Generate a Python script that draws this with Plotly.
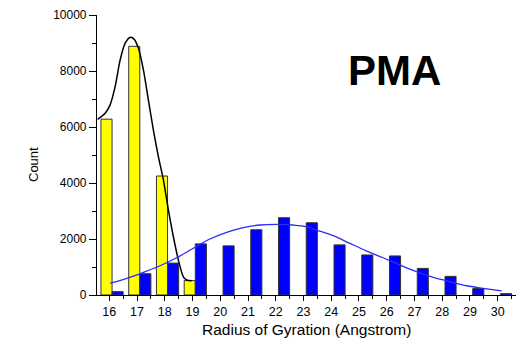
import plotly.graph_objects as go

# Radius-of-gyration bins (Angstrom)
yellow_bins = [16, 17, 18, 19]
yellow_counts = [6280, 8880, 4250, 515]

blue_bins = [16, 17, 18, 19, 20, 21, 22, 23, 24, 25, 26, 27, 28, 29, 30]
blue_counts = [120, 760, 1140, 1825, 1755, 2330, 2760, 2580, 1790, 1430, 1395, 950, 665, 230, 48]

# Fitted distribution curves
black_fit_x = [15.58, 15.85, 16.03, 16.21, 16.39, 16.57, 16.75, 16.90, 17.05, 17.23,
               17.41, 17.59, 17.77, 17.95, 18.13, 18.31, 18.49, 18.67, 18.79, 18.97]
black_fit_y = [6275, 6490, 6790, 7440, 8390, 8990, 9200, 9130, 8810, 8040,
               6960, 5890, 4940, 4110, 3040, 2080, 1250, 650, 535, 510]

blue_fit_x = [16.03, 16.63, 17.23, 17.83, 18.43, 19.03, 19.63, 20.23, 20.83, 21.43,
              22.03, 22.63, 23.11, 23.47, 24.07, 24.67, 25.28, 25.87, 26.48, 27.08,
              27.68, 28.28, 28.88, 29.48, 30.14]
blue_fit_y = [420, 595, 810, 1045, 1330, 1670, 2000, 2240, 2405, 2500,
              2525, 2500, 2440, 2320, 2120, 1845, 1570, 1330, 1070, 830,
              630, 475, 330, 240, 145]

x_ticks = list(range(16, 31))
y_ticks = [0, 2000, 4000, 6000, 8000, 10000]

FONT = "Liberation Sans, Arial, sans-serif"

# Figure and plot-area geometry in pixels
W, H = 516, 339
L, R, T, B = 97, 0, 15, 44
pw, ph = W - L - R, H - T - B


def px_to_paper(x, y):
    """Convert figure pixel coordinates (origin top-left) to paper coordinates."""
    return (x - L) / pw, (H - y - B) / ph


fig = go.Figure()

fig.add_trace(go.Bar(
    x=yellow_bins, y=yellow_counts, width=0.4, offset=-0.3,
    marker=dict(color="#ffff00", line=dict(color="#333333", width=1)),
    showlegend=False,
))
fig.add_trace(go.Bar(
    x=blue_bins, y=blue_counts, width=0.4, offset=0.1,
    marker=dict(color="#0000ff", line=dict(color="#333333", width=1)),
    showlegend=False,
))
fig.add_trace(go.Scatter(
    x=black_fit_x, y=black_fit_y, mode="lines",
    line=dict(color="black", width=1.5, shape="spline", smoothing=0.8),
    showlegend=False,
))
fig.add_trace(go.Scatter(
    x=blue_fit_x, y=blue_fit_y, mode="lines",
    line=dict(color="#2a2aff", width=1.3, shape="spline"),
    showlegend=False,
))

cx, cy = px_to_paper(33, 165)
tx, ty = px_to_paper(306, 329)
lx, ly = px_to_paper(394, 71)

fig.update_layout(
    width=W, height=H,
    margin=dict(l=L, r=R, t=T, b=B),
    plot_bgcolor="white", paper_bgcolor="white",
    barmode="overlay",
    font=dict(family=FONT, size=12, color="black"),
    xaxis=dict(
        range=[15.557, 30.66],
        tickmode="array", tickvals=x_ticks, ticktext=[str(v) for v in x_ticks],
        ticks="outside", ticklen=5, tickwidth=1, tickcolor="black",
        minor=dict(tickmode="linear", tick0=16.5, dtick=1, ticks="outside",
                   ticklen=3, tickcolor="black"),
        showline=True, linecolor="black", linewidth=1.2,
        showgrid=False, zeroline=False,
        tickfont=dict(size=12.5),
    ),
    yaxis=dict(
        range=[0, 10000],
        tickmode="array", tickvals=y_ticks, ticktext=[str(v) for v in y_ticks],
        ticks="outside", ticklen=7, tickwidth=1, tickcolor="black",
        minor=dict(tickmode="linear", tick0=1000, dtick=2000, ticks="outside",
                   ticklen=4, tickcolor="black"),
        showline=True, linecolor="black", linewidth=1.2,
        showgrid=False, zeroline=False,
        tickfont=dict(size=12),
    ),
    annotations=[
        dict(text="Count", x=cx, y=cy, xref="paper", yref="paper",
             showarrow=False, textangle=-90, font=dict(size=13),
             xanchor="center", yanchor="middle"),
        dict(text="Radius of Gyration (Angstrom)", x=tx, y=ty,
             xref="paper", yref="paper",
             showarrow=False, font=dict(size=15.5),
             xanchor="center", yanchor="middle"),
        dict(text="<b>PMA</b>", x=lx, y=ly, xref="paper", yref="paper",
             showarrow=False, font=dict(size=42),
             xanchor="center", yanchor="middle"),
    ],
)

fig.write_html("out.html")
